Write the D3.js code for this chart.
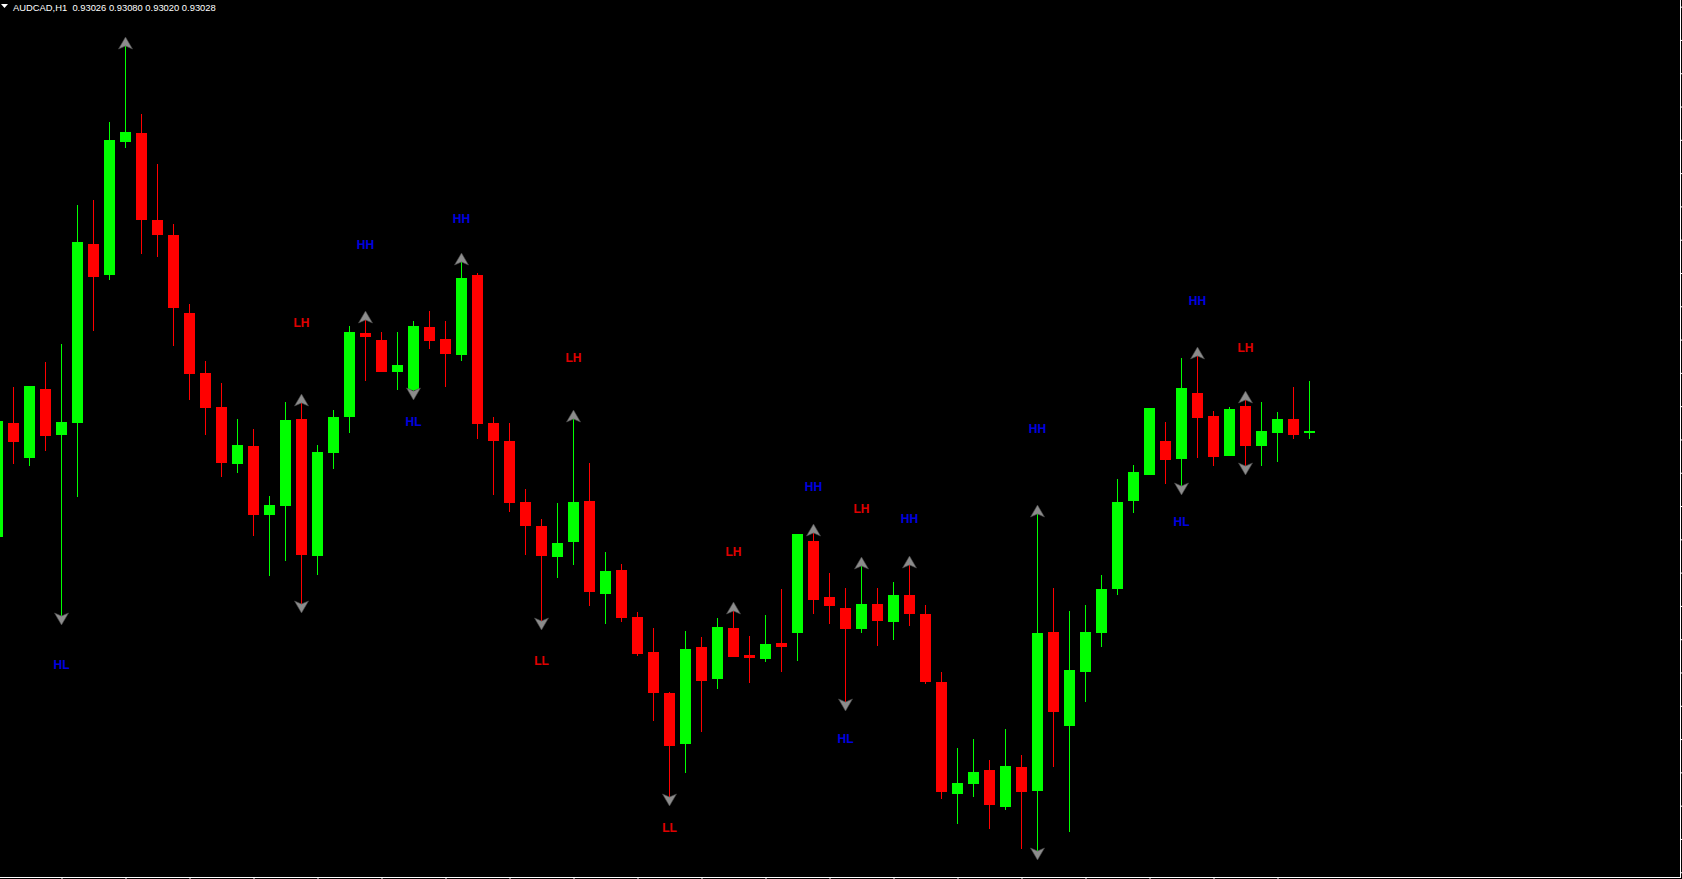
<!DOCTYPE html>
<html>
<head>
<meta charset="utf-8">
<script src="https://cdn.jsdelivr.net/npm/d3@7"></script>
<style>
  html, body { margin: 0; padding: 0; background: #000; overflow: hidden; }
  svg { display: block; }
</style>
</head>
<body>
<svg id="chart" width="1682" height="879"></svg>
<script>
// AUDCAD H1 bars, oldest first
var opens = [0.92916,0.93036,0.92999,0.93072,0.93024,0.93036,0.93224,0.93192,0.93332,0.93341,
  0.93250,0.93234,0.93152,0.93089,0.93053,0.92993,0.93012,0.92940,0.92949,0.93040,
  0.92896,0.93005,0.93043,0.93131,0.93124,0.93090,0.93071,0.93137,0.93125,0.93108,
  0.93192,0.93036,0.93017,0.92953,0.92928,0.92895,0.92911,0.92954,0.92857,0.92882,
  0.92832,0.92796,0.92752,0.92699,0.92801,0.92767,0.92821,0.92792,0.92788,0.92805,
  0.92816,0.92912,0.92853,0.92842,0.92820,0.92846,0.92827,0.92855,0.92835,0.92764,
  0.92646,0.92657,0.92671,0.92633,0.92675,0.92649,0.92817,0.92718,0.92775,0.92815,
  0.92862,0.92954,0.92982,0.93017,0.92998,0.93068,0.93044,0.93002,0.93054,0.93012,
  0.93026,0.93041,0.93026];
var highs = [0.93042,0.93074,0.93075,0.93100,0.93119,0.93265,0.93271,0.93353,0.93433,0.93361,
  0.93309,0.93245,0.93161,0.93101,0.93078,0.93040,0.93030,0.92960,0.93058,0.93057,
  0.93013,0.93050,0.93138,0.93145,0.93132,0.93132,0.93144,0.93154,0.93144,0.93206,
  0.93194,0.93043,0.93036,0.92967,0.92935,0.92952,0.93041,0.92994,0.92901,0.92888,
  0.92838,0.92821,0.92753,0.92818,0.92811,0.92831,0.92839,0.92812,0.92834,0.92862,
  0.92920,0.92921,0.92879,0.92863,0.92886,0.92863,0.92869,0.92887,0.92845,0.92774,
  0.92695,0.92704,0.92682,0.92715,0.92687,0.92941,0.92863,0.92839,0.92845,0.92877,
  0.92977,0.92992,0.93052,0.93037,0.93105,0.93107,0.93049,0.93053,0.93060,0.93058,
  0.93048,0.93074,0.93080];
var lows = [0.92913,0.92993,0.92991,0.93007,0.92833,0.92959,0.93133,0.93187,0.93325,0.93214,
  0.93211,0.93117,0.93060,0.93024,0.92980,0.92984,0.92917,0.92875,0.92891,0.92846,
  0.92876,0.92988,0.93026,0.93080,0.93090,0.93071,0.93070,0.93114,0.93074,0.93101,
  0.93019,0.92961,0.92943,0.92898,0.92828,0.92873,0.92887,0.92844,0.92825,0.92827,
  0.92791,0.92723,0.92643,0.92668,0.92711,0.92757,0.92790,0.92763,0.92785,0.92775,
  0.92786,0.92835,0.92825,0.92743,0.92816,0.92802,0.92808,0.92823,0.92762,0.92641,
  0.92615,0.92643,0.92609,0.92629,0.92588,0.92586,0.92675,0.92606,0.92743,0.92801,
  0.92855,0.92942,0.92982,0.92972,0.92970,0.92999,0.92991,0.93002,0.92991,0.92991,
  0.92995,0.93019,0.93020];
var closes = [0.93038,0.93016,0.93075,0.93023,0.93037,0.93227,0.93190,0.93334,0.93342,0.93250,
  0.93234,0.93157,0.93088,0.93052,0.92994,0.93013,0.92940,0.92950,0.93039,0.92898,
  0.93006,0.93043,0.93132,0.93127,0.93090,0.93097,0.93138,0.93123,0.93109,0.93189,
  0.93035,0.93017,0.92952,0.92928,0.92896,0.92910,0.92953,0.92859,0.92881,0.92831,
  0.92793,0.92752,0.92697,0.92799,0.92765,0.92822,0.92790,0.92789,0.92804,0.92801,
  0.92920,0.92850,0.92844,0.92820,0.92846,0.92828,0.92855,0.92835,0.92764,0.92648,
  0.92658,0.92669,0.92635,0.92676,0.92648,0.92815,0.92732,0.92777,0.92817,0.92862,
  0.92953,0.92985,0.93052,0.92997,0.93073,0.93042,0.93001,0.93051,0.93012,0.93028,
  0.93040,0.93024,0.93028];

// swing arrows (bar index) and the HH/HL/LH/LL text objects
var upArrowBars = [8, 19, 23, 29, 36, 46, 51, 54, 57, 65, 75, 78];
var downArrowBars = [4, 19, 26, 34, 42, 53, 65, 74, 78];
var labelBars   = [4, 19, 23, 26, 29, 34, 36, 42, 46, 51, 53, 54, 57, 65, 74, 75, 78];
var labelTexts  = ["HL","LH","HH","HL","HH","LL","LH","LL","LH","HH","HL","LH","HH","HH","HL","HH","LH"];
var labelPrices = [0.92782,0.93141,0.93223,0.93037,0.93251,0.92786,0.93105,0.92611,0.92901,
  0.92969,0.92704,0.92946,0.92935,0.93030,0.92932,0.93165,0.93115];

// price scale ticks on the right edge and time ticks on the bottom edge
var priceTicks = [0.93474,0.93439,0.93404,0.93369,0.93334,0.93299,0.93264,0.93229,0.93194,
  0.93159,0.93124,0.93089,0.93054,0.93019,0.92984,0.92949,0.92914,0.92879,0.92844,0.92809,
  0.92774,0.92739,0.92704,0.92669,0.92634,0.92599,0.92564];
var timeTicks = [4,8,12,16,20,24,28,32,36,40,44,48,52,56,60,64,68,72,76,80];

var symbol = "AUDCAD,H1";
var lastQuote = ["0.93026", "0.93080", "0.93020", "0.93028"];

var svg = d3.select("#chart"),
  width = +svg.attr("width"),
  height = +svg.attr("height"),
  plotRight = 1680,
  plotBottom = 877,
  bull = "#00ff00",
  bear = "#ff0000";

svg.append("rect").attr("width", width).attr("height", height).attr("fill", "#000");

var x = d3.scaleLinear().domain([0, opens.length - 1]).range([-2.5, 1309.5]);
var y = d3.scaleLinear().domain([0.92559, 0.93481]).range([plotBottom, 0]);

var bars = opens.map(function (o, i) {
  return { i: i, o: o, h: highs[i], l: lows[i], c: closes[i] };
});

var g = svg.append("g").attr("shape-rendering", "crispEdges");

// wicks
g.selectAll(".wick").data(bars).enter().append("rect")
  .attr("class", "wick")
  .attr("x", function (d) { return x(d.i) - 0.5; })
  .attr("y", function (d) { return Math.round(y(d.h)); })
  .attr("width", 1)
  .attr("height", function (d) { return Math.max(1, Math.round(y(d.l)) - Math.round(y(d.h))); })
  .attr("fill", function (d) { return d.c >= d.o ? bull : bear; });

// bodies
g.selectAll(".body").data(bars).enter().append("rect")
  .attr("class", "body")
  .attr("x", function (d) { return x(d.i) - 5.5; })
  .attr("y", function (d) { return Math.round(y(Math.max(d.o, d.c))); })
  .attr("width", 11)
  .attr("height", function (d) {
    return Math.max(2, Math.round(y(Math.min(d.o, d.c))) - Math.round(y(Math.max(d.o, d.c))));
  })
  .attr("fill", function (d) { return d.c >= d.o ? bull : bear; });

// arrows
function arrowPath(cx, py, dir) {
  // dir -1 = up (tip above), 1 = down (tip below)
  return "M" + cx + "," + (py + 9 * dir) +
    "L" + (cx - 7) + "," + (py - 3 * dir) +
    "L" + cx + "," + py +
    "L" + (cx + 7) + "," + (py - 3 * dir) + "Z";
}

var arrows = svg.append("g");
arrows.selectAll(".up").data(upArrowBars).enter().append("path")
  .attr("class", "up")
  .attr("d", function (i) { return arrowPath(x(i), Math.round(y(highs[i])), -1); })
  .attr("fill", "#8c8c8c")
  .attr("stroke", "#4a4a4a")
  .attr("stroke-width", 0.6);
arrows.selectAll(".down").data(downArrowBars).enter().append("path")
  .attr("class", "down")
  .attr("d", function (i) { return arrowPath(x(i), Math.round(y(lows[i])), 1); })
  .attr("fill", "#8c8c8c")
  .attr("stroke", "#4a4a4a")
  .attr("stroke-width", 0.6);

// swing labels
svg.append("g").selectAll("text").data(labelBars).enter().append("text")
  .attr("x", function (b) { return x(b); })
  .attr("y", function (b, k) { return y(labelPrices[k]); })
  .attr("text-anchor", "middle")
  .attr("dominant-baseline", "central")
  .attr("font-family", "Liberation Sans, Arial, sans-serif")
  .attr("font-size", 12)
  .attr("font-weight", "bold")
  .attr("fill", function (b, k) { return labelTexts[k] === "HH" || labelTexts[k] === "HL" ? "#0000e0" : "#e00000"; })
  .text(function (b, k) { return labelTexts[k]; });

// frame + axes (labels fall outside the window)
var frame = svg.append("g").attr("shape-rendering", "crispEdges");
frame.append("line").attr("x1", 0).attr("x2", plotRight + 0.5)
  .attr("y1", plotBottom + 0.5).attr("y2", plotBottom + 0.5).attr("stroke", "#fff");
frame.append("line").attr("x1", plotRight + 0.5).attr("x2", plotRight + 0.5)
  .attr("y1", 0).attr("y2", plotBottom + 0.5).attr("stroke", "#fff");

var xAxis = d3.axisBottom(x).tickValues(timeTicks).tickSize(3).tickSizeOuter(0).tickFormat("");
var yAxis = d3.axisRight(y).tickValues(priceTicks).tickSize(3).tickSizeOuter(0).tickFormat("");

svg.append("g").attr("transform", "translate(0," + (plotBottom + 0.5) + ")").call(xAxis)
  .call(function (a) { a.select(".domain").remove(); a.selectAll("line").attr("stroke", "#fff"); });
svg.append("g").attr("transform", "translate(" + (plotRight + 0.5) + ",0)").call(yAxis)
  .call(function (a) { a.select(".domain").remove(); a.selectAll("line").attr("stroke", "#fff"); });

// header
svg.append("path").attr("d", "M1,4L8,4L4.5,8Z").attr("fill", "#fff");
svg.append("text")
  .attr("x", 13).attr("y", 11)
  .attr("font-family", "Liberation Sans, Arial, sans-serif")
  .attr("font-size", 9.4)
  .attr("fill", "#fff")
  .style("white-space", "pre")
  .text(symbol + "  " + lastQuote.join(" "));
</script>
</body>
</html>
